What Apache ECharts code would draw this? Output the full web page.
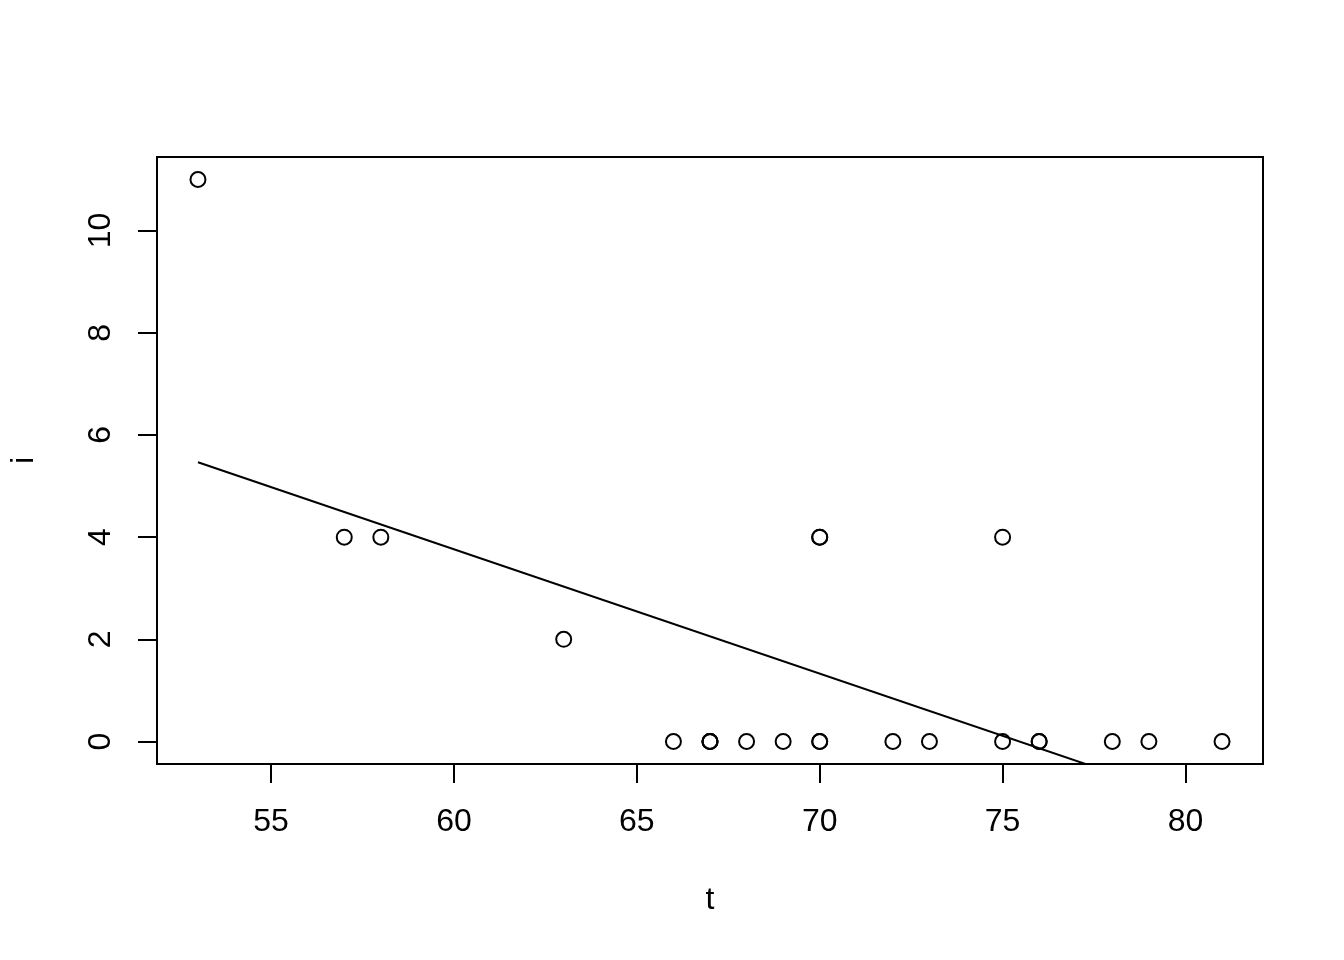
<!DOCTYPE html>
<html>
<head>
<meta charset="utf-8">
<script src="https://cdn.jsdelivr.net/npm/echarts@6/dist/echarts.min.js"></script>
<style>html,body{margin:0;padding:0;background:#fff}#c{width:1344px;height:960px}</style>
</head>
<body>
<div id="c"></div>
<script>
// Data
var temps = [53,57,58,63,66,67,67,67,68,69,70,70,70,70,72,73,75,75,76,76,78,79,81];
var incidents = [11,4,4,2,0,0,0,0,0,0,4,4,0,0,0,0,4,0,0,0,0,0,0];
var xTicks = [55,60,65,70,75,80];
var yTicks = [0,2,4,6,8,10];

// least-squares fit of i on t (the drawn straight line)
var n = temps.length, mx = 0, my = 0;
for (var k = 0; k < n; k++) { mx += temps[k]; my += incidents[k]; }
mx /= n; my /= n;
var sxy = 0, sxx = 0;
for (var k = 0; k < n; k++) { sxy += (temps[k]-mx)*(incidents[k]-my); sxx += (temps[k]-mx)*(temps[k]-mx); }
var slope = sxy / sxx, intercept = my - slope * mx;
var tMin = Math.min.apply(null, temps), tMax = Math.max.apply(null, temps);
var iMin = Math.min.apply(null, incidents), iMax = Math.max.apply(null, incidents);
var fitLine = [[tMin, intercept + slope*tMin], [tMax, intercept + slope*tMax]];

var pts = temps.map(function(t, j){ return [t, incidents[j]]; });
var padX = (tMax - tMin) * 0.04, padY = (iMax - iMin) * 0.04;

var font = 'Liberation Sans, Arial, Helvetica, sans-serif';
var chart = echarts.init(document.getElementById('c'));
chart.setOption({
  animation: false,
  backgroundColor: '#fff',
  grid: { left: 157, right: 81, top: 157, bottom: 196, containLabel: false, outerBoundsMode: 'none',
          show: true, borderColor: '#000', borderWidth: 2, backgroundColor: 'transparent' },
  xAxis: {
    type: 'value', min: tMin - padX, max: tMax + padX,
    name: 't', nameLocation: 'middle', nameGap: 120,
    nameTextStyle: { color: '#000', fontSize: 32, fontFamily: font },
    axisLine: { show: false, onZero: false },
    splitLine: { show: false },
    axisTick: { show: true, inside: false, length: 19, customValues: xTicks, lineStyle: { color: '#000', width: 2 } },
    axisLabel: { customValues: xTicks, color: '#000', fontSize: 32, fontFamily: font, margin: 42, lineHeight: 32 }
  },
  yAxis: {
    type: 'value', min: iMin - padY, max: iMax + padY,
    name: 'i', nameLocation: 'middle', nameGap: 117, nameRotate: 90,
    nameTextStyle: { color: '#000', fontSize: 32, fontFamily: font },
    axisLine: { show: false, onZero: false },
    splitLine: { show: false },
    axisTick: { show: true, inside: false, length: 19, customValues: yTicks, lineStyle: { color: '#000', width: 2 } },
    axisLabel: { customValues: yTicks, color: '#000', fontSize: 32, fontFamily: font, margin: 40, rotate: 90, lineHeight: 32 }
  },
  series: [
    {
      type: 'line', data: fitLine, symbol: 'none', clip: true, silent: true,
      lineStyle: { color: '#000', width: 2 }, z: 2
    },
    {
      type: 'scatter', data: pts, symbol: 'circle', symbolSize: 15,
      itemStyle: { color: 'rgba(0,0,0,0)', borderColor: '#000', borderWidth: 2, opacity: 1 }, z: 3
    }
  ]
});
</script>
</body>
</html>
